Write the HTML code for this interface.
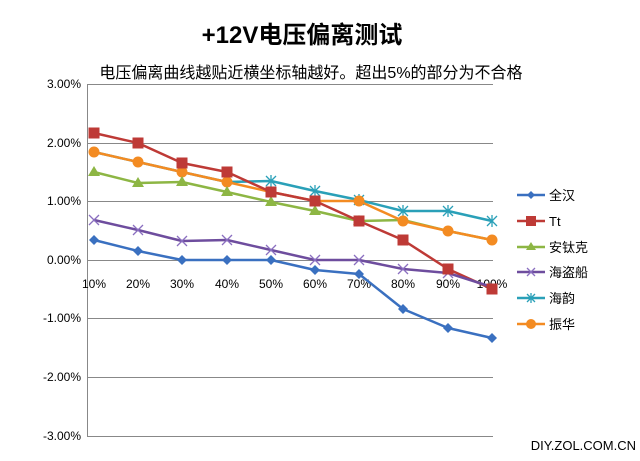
<!DOCTYPE html>
<html><head><meta charset="utf-8"><style>
body{margin:0;background:#fff;}
svg text{font-family:"Liberation Sans","Noto Sans CJK SC",sans-serif;}
</style></head><body>
<svg width="640" height="456" viewBox="0 0 640 456" xmlns="http://www.w3.org/2000/svg">
<rect width="640" height="456" fill="#fff"/>
<text x="302" y="43" font-size="24" font-weight="bold" text-anchor="middle" fill="#000">+12V电压偏离测试</text>
<text x="311" y="78" font-size="16" text-anchor="middle" fill="#000">电压偏离曲线越贴近横坐标轴越好。超出5%的部分为不合格</text>
<g stroke="#888" stroke-width="1">
<line x1="87" y1="84.5" x2="493" y2="84.5"/>
<line x1="87" y1="143.5" x2="493" y2="143.5"/>
<line x1="87" y1="201.5" x2="493" y2="201.5"/>
<line x1="87" y1="260.5" x2="493" y2="260.5"/>
<line x1="87" y1="318.5" x2="493" y2="318.5"/>
<line x1="87" y1="377.5" x2="493" y2="377.5"/>
<line x1="87" y1="436.5" x2="493" y2="436.5"/>
<line x1="87.5" y1="84" x2="87.5" y2="436"/>
</g>
<g font-size="12" text-anchor="end" fill="#000">
<text x="81" y="88">3.00%</text><text x="81" y="147">2.00%</text><text x="81" y="205">1.00%</text><text x="81" y="264">0.00%</text><text x="81" y="322">-1.00%</text><text x="81" y="381">-2.00%</text><text x="81" y="440">-3.00%</text>
</g>
<g font-size="12" text-anchor="middle" fill="#000">
<text x="94" y="288">10%</text><text x="138" y="288">20%</text><text x="182" y="288">30%</text><text x="227" y="288">40%</text><text x="271" y="288">50%</text><text x="315" y="288">60%</text><text x="359" y="288">70%</text><text x="403" y="288">80%</text><text x="448" y="288">90%</text><text x="492" y="288">100%</text>
</g>
<g fill="none" stroke-width="2.5" stroke-linejoin="round">
<polyline stroke="#2aa0b8" points="94,152 138,162 182,172 227,182 271,181 315,191 359,200 403,211 448,211 492,221"/>
<polyline stroke="#8db644" points="94,172 138,183 182,182 227,192 271,202 315,211 359,221 403,220 448,231 492,240"/>
<polyline stroke="#f38b22" points="94,152 138,162 182,172 227,182 271,192 315,201 359,201 403,221 448,231 492,240"/>
<polyline stroke="#be3a36" points="94,133 138,143 182,163 227,172 271,192 315,201 359,221 403,240 448,269 492,289"/>
<polyline stroke="#6e4d9e" points="94,220 138,230 182,241 227,240 271,250 315,260 359,260 403,269 448,273 492,287"/>
<polyline stroke="#3a70c0" points="94,240 138,251 182,260 227,260 271,260 315,270 359,274 403,309 448,328 492,338"/>
</g>
<g stroke="#2aa0b8" stroke-width="1.3" fill="none">
<path d="M266,176l10,10M276,176l-10,10M271,175v12M310,186l10,10M320,186l-10,10M315,185v12M354,195l10,10M364,195l-10,10M359,194v12M398,206l10,10M408,206l-10,10M403,205v12M443,206l10,10M453,206l-10,10M448,205v12M487,216l10,10M497,216l-10,10M492,215v12"/>
</g>
<g stroke="#8a6fc0" stroke-width="1.3" fill="none">
<path d="M89,215l10,10M99,215l-10,10M133,225l10,10M143,225l-10,10M177,236l10,10M187,236l-10,10M222,235l10,10M232,235l-10,10M266,245l10,10M276,245l-10,10M310,255l10,10M320,255l-10,10M354,255l10,10M364,255l-10,10M398,264l10,10M408,264l-10,10M443,268l10,10M453,268l-10,10"/>
</g>
<g fill="#f38b22">
<circle cx="94" cy="152" r="5.5"/><circle cx="138" cy="162" r="5.5"/><circle cx="182" cy="172" r="5.5"/><circle cx="227" cy="182" r="5.5"/><circle cx="271" cy="192" r="5.5"/><circle cx="315" cy="201" r="5.5"/><circle cx="359" cy="201" r="5.5"/><circle cx="403" cy="221" r="5.5"/><circle cx="448" cy="231" r="5.5"/><circle cx="492" cy="240" r="5.5"/>
</g>
<g fill="#8db644">
<polygon points="94,166 100,176 88,176"/><polygon points="138,177 144,187 132,187"/><polygon points="182,176 188,186 176,186"/><polygon points="227,186 233,196 221,196"/><polygon points="271,196 277,206 265,206"/><polygon points="315,205 321,215 309,215"/><polygon points="359,215 365,225 353,225"/>
</g>
<g fill="#be3a36">
<rect x="88.5" y="127.5" width="11" height="11"/><rect x="132.5" y="137.5" width="11" height="11"/><rect x="176.5" y="157.5" width="11" height="11"/><rect x="221.5" y="166.5" width="11" height="11"/><rect x="265.5" y="186.5" width="11" height="11"/><rect x="309.5" y="195.5" width="11" height="11"/><rect x="353.5" y="215.5" width="11" height="11"/><rect x="397.5" y="234.5" width="11" height="11"/><rect x="442.5" y="263.5" width="11" height="11"/><rect x="486.5" y="283.5" width="11" height="11"/>
</g>
<g fill="#3a70c0">
<polygon points="94,235 99,240 94,245 89,240"/><polygon points="138,246 143,251 138,256 133,251"/><polygon points="182,255 187,260 182,265 177,260"/><polygon points="227,255 232,260 227,265 222,260"/><polygon points="271,255 276,260 271,265 266,260"/><polygon points="315,265 320,270 315,275 310,270"/><polygon points="359,269 364,274 359,279 354,274"/><polygon points="403,304 408,309 403,314 398,309"/><polygon points="448,323 453,328 448,333 443,328"/><polygon points="492,333 497,338 492,343 487,338"/>
</g>
<g stroke-width="2.5">
<line x1="517" y1="195" x2="545" y2="195" stroke="#3a70c0"/>
<line x1="517" y1="221" x2="545" y2="221" stroke="#be3a36"/>
<line x1="517" y1="247" x2="545" y2="247" stroke="#8db644"/>
<line x1="517" y1="272" x2="545" y2="272" stroke="#6e4d9e"/>
<line x1="517" y1="298" x2="545" y2="298" stroke="#2aa0b8"/>
<line x1="517" y1="324" x2="545" y2="324" stroke="#f38b22"/>
</g>
<polygon points="531,191 535,195 531,199 527,195" fill="#3a70c0"/>
<rect x="526" y="216" width="10" height="10" fill="#be3a36"/>
<polygon points="531,242 536,250 526,250" fill="#8db644"/>
<path d="M527,268l8,8M535,268l-8,8" stroke="#8a6fc0" stroke-width="1.3"/>
<path d="M527,294l8,8M535,294l-8,8M531,293v10" stroke="#2aa0b8" stroke-width="1.3"/>
<circle cx="531" cy="324" r="5" fill="#f38b22"/>
<g font-size="13" fill="#000">
<text x="549" y="200">全汉</text><text x="549" y="226">Tt</text><text x="549" y="252">安钛克</text><text x="549" y="277">海盗船</text><text x="549" y="303">海韵</text><text x="549" y="329">振华</text>
</g>
<text x="636" y="450" font-size="13" text-anchor="end" fill="#000">DIY.ZOL.COM.CN</text>
</svg>
</body></html>
